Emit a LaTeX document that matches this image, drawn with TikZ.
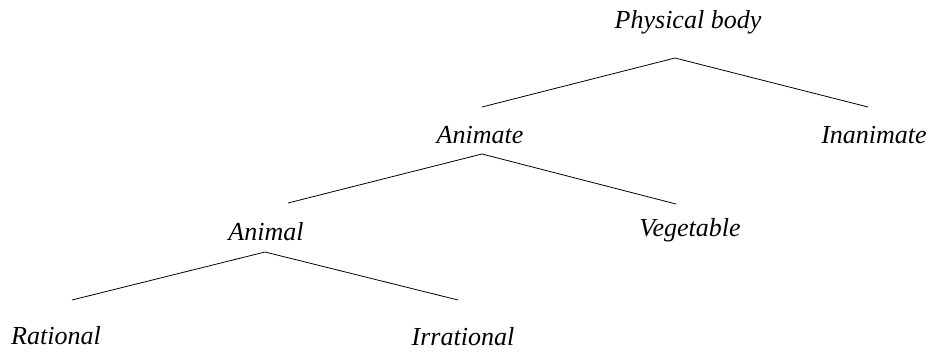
\documentclass[tikz,border=0pt]{standalone}
\usepackage{fontspec}
\setmainfont{Liberation Serif}
\begin{document}
\begin{tikzpicture}[x=1pt,y=-1pt,
  term/.style={anchor=base,inner sep=0pt,font=\fontsize{26}{30}\selectfont\itshape},
  branch/.style={line width=0.8pt,black}]
\useasboundingbox (0,0) rectangle (931,351);
% terms
\node[term] (pb) at (688,28) {Physical body};
\node[term] (anim) at (480,143) {Animate};
\node[term] (inan) at (874,143) {Inanimate};
\node[term] (animal) at (266,240) {Animal};
\node[term] (veg) at (690,236) {Vegetable};
\node[term] (rat) at (56,344) {Rational};
\node[term] (irr) at (463,345) {Irrational};
% junction / attachment points
\coordinate (pbJ) at (675,58);
\coordinate (animT) at (482,107);
\coordinate (inanT) at (868,107);
\coordinate (animJ) at (482,154);
\coordinate (animalT) at (288,203);
\coordinate (vegT) at (676,204);
\coordinate (animalJ) at (265,252);
\coordinate (ratT) at (72,300);
\coordinate (irrT) at (458,300);
% branches
\draw[branch] (animT) -- (pbJ) -- (inanT);
\draw[branch] (animalT) -- (animJ) -- (vegT);
\draw[branch] (ratT) -- (animalJ) -- (irrT);
\end{tikzpicture}
\end{document}
